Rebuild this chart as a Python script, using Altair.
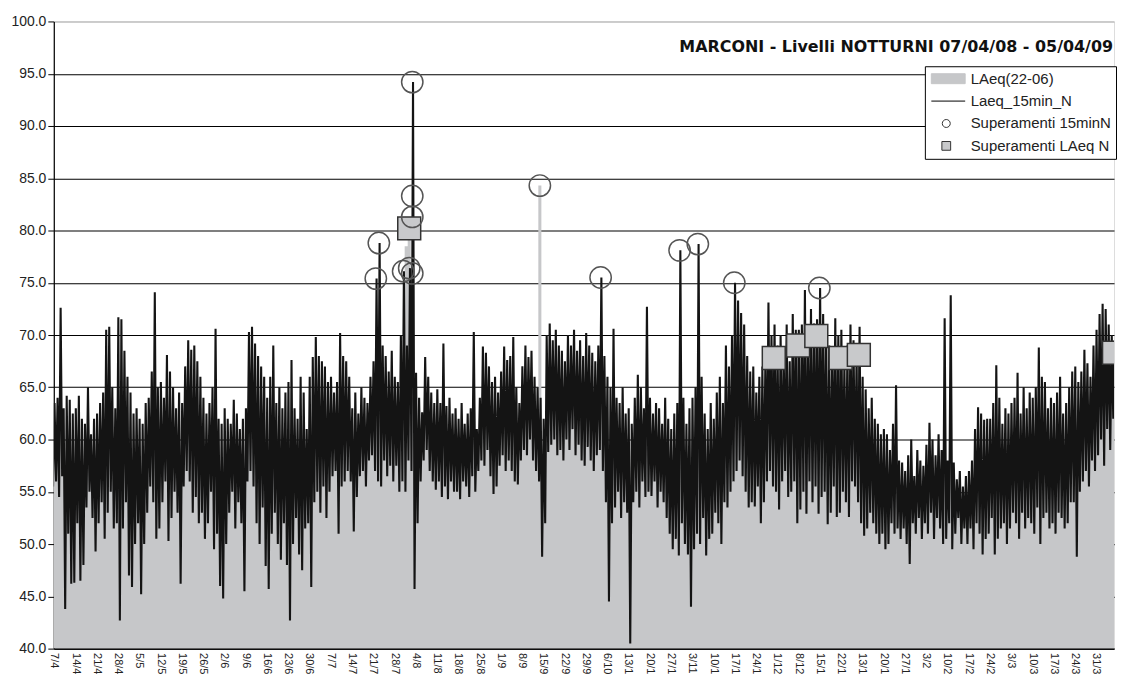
import json
import altair as alt
import pandas as pd

# ---------------- data ----------------
# tick labels as they appear on the category axis (one every 7 nights)
DATE_LABELS = ["7/4", "14/4", "21/4", "28/4", "5/5", "12/5", "19/5", "26/5", "2/6", "9/6",
               "16/6", "23/6", "30/6", "7/7", "14/7", "21/7", "28/7", "4/8", "11/8", "18/8",
               "25/8", "1/9", "8/9", "15/9", "22/9", "29/9", "6/10", "13/1", "20/1", "27/1",
               "3/11", "10/1", "17/1", "24/1", "1/12", "8/12", "15/1", "22/1", "13/1", "20/1",
               "27/1", "3/2", "10/2", "17/2", "24/2", "3/3", "10/3", "17/3", "24/3", "31/3"]

# nightly maximum of the 15-min levels (dB(A)), one value per night
HIGH_15MIN = [
    63.5, 64.0, 72.6, 63.0, 64.2, 63.8, 62.5,
    63.0, 64.2, 62.0, 61.5, 65.0, 60.5, 62.0,
    62.5, 63.5, 64.5, 70.5, 70.8, 65.0, 63.0,
    71.7, 71.5, 68.5, 66.0, 64.5, 62.5, 63.0,
    62.0, 61.5, 63.5, 64.0, 66.5, 74.1, 65.0,
    65.5, 64.0, 68.1, 66.5, 65.0, 63.0, 64.5,
    63.5, 67.0, 69.5, 68.6, 69.0, 67.5, 66.0,
    64.0, 62.5, 63.5, 65.0, 70.6, 62.0, 61.5,
    63.0, 62.0, 61.5, 63.8, 62.5, 61.0, 62.0,
    63.0, 70.3, 70.8, 69.2, 68.0, 67.0, 66.0,
    64.0, 66.0, 69.0, 63.5, 65.0, 63.0, 64.5,
    65.5, 67.6, 63.0, 62.0, 66.0, 64.5, 61.0,
    66.0, 67.9, 69.8, 68.0, 67.5, 67.0, 65.5,
    66.0, 64.5, 65.5, 70.2, 68.0, 67.5, 66.0,
    63.0, 64.5, 62.5, 65.0, 64.0, 63.5, 66.0,
    67.5, 75.4, 78.8, 69.0, 68.0, 66.5, 68.5,
    66.0, 65.5, 70.0, 76.1, 69.0, 76.4, 94.2,
    66.4, 64.0, 62.6, 67.9, 66.0, 64.5, 63.5,
    64.8, 63.5, 69.2, 63.2, 64.0, 62.5, 63.0,
    62.0, 63.5, 61.5, 62.5, 63.0, 70.3, 61.0,
    64.0, 68.9, 68.3, 67.0, 65.5, 66.0, 64.5,
    66.5, 68.9, 67.6, 68.0, 69.8, 65.0, 63.5,
    67.0, 69.0, 67.9, 68.5, 66.0, 65.0, 64.0,
    62.0, 70.0, 71.1, 69.5, 70.5, 69.0, 68.5,
    67.5, 70.0, 69.0, 70.5, 68.5, 69.5, 68.0,
    70.2, 69.0, 68.3, 67.5, 69.0, 75.5, 68.0,
    66.0, 65.0, 70.6, 64.0, 63.5, 65.0, 62.5,
    63.0, 61.5, 64.0, 66.2, 65.0, 63.0, 72.7,
    64.0, 62.5, 63.5, 63.0, 61.5, 64.0, 62.0,
    61.0, 62.5, 63.5, 78.1, 64.0, 61.5, 63.0,
    64.0, 65.0, 78.7, 66.0, 62.5, 61.0, 63.5,
    62.0, 64.5, 66.0, 63.5, 69.0, 67.0, 70.0,
    75.0, 73.3, 72.1, 71.0, 68.0, 66.5, 67.0,
    64.5, 66.0, 67.0, 68.0, 73.1, 70.0, 71.0,
    69.0, 70.0, 68.5, 71.0, 67.5, 72.0, 70.5,
    70.5, 71.0, 74.3, 70.0, 72.5, 71.1, 71.5,
    74.5, 72.0, 70.5, 69.0, 68.5, 71.6, 70.0,
    70.5, 67.5, 69.0, 71.0, 69.5, 68.0, 70.8,
    66.0, 64.8, 63.0, 64.0, 62.0, 61.5, 60.5,
    61.0, 60.5, 59.0, 61.5, 65.2, 58.0, 57.8,
    57.0, 58.5, 60.0, 56.5, 59.0, 58.0, 57.5,
    59.5, 61.6, 60.0, 58.5, 60.5, 59.0, 71.6,
    58.0, 73.8, 57.8, 56.2, 57.0, 55.5, 56.5,
    57.0, 58.0, 61.0, 63.1, 62.5, 61.9, 62.0,
    62.0, 63.5, 67.1, 64.0, 61.5, 63.0, 62.5,
    63.5, 64.0, 66.4, 62.5, 65.0, 63.0, 64.5,
    64.0, 65.0, 68.8, 66.0, 65.5, 63.0, 64.0,
    63.5, 64.5, 66.0, 62.5, 63.5, 65.0, 66.5,
    67.0, 65.5, 66.5, 68.6, 67.3, 66.0, 69.0,
    70.5, 72.0, 73.0, 72.5, 71.0, 70.0, 69.5,
]

# nightly minimum of the 15-min levels (dB(A))
LOW_15MIN = [
    55.5, 56.0, 54.5, 56.5, 43.8, 51.0, 46.2,
    46.3, 52.0, 46.5, 48.0, 53.5, 55.0, 52.5,
    49.3, 52.0, 54.0, 50.5, 53.0, 55.0, 51.5,
    52.0, 42.7, 51.5, 54.0, 47.0, 45.9, 50.0,
    52.0, 45.2, 50.0, 53.0, 55.5, 54.0, 50.5,
    51.5, 54.0, 56.0, 50.3, 52.5, 55.0, 53.0,
    46.2, 55.5, 57.0, 56.0, 53.0, 54.5, 52.0,
    53.0, 50.5, 52.0, 55.0, 49.5, 51.0, 46.0,
    44.8, 50.0, 53.0, 55.0, 51.5, 54.0, 52.0,
    45.5, 56.0, 57.0, 55.5, 52.0, 50.0, 53.5,
    47.9, 45.7, 51.0, 53.0, 50.0, 48.5, 52.0,
    48.0, 42.7, 50.0, 52.5, 49.0, 47.5, 51.5,
    52.0, 45.9, 54.0, 55.0, 53.0, 55.5, 52.5,
    55.0, 56.5, 57.0, 51.0, 55.5, 56.0, 57.0,
    56.0, 51.2, 54.5, 56.5, 57.0, 55.5, 58.0,
    58.5, 57.0, 56.0, 55.5, 58.0, 56.5, 57.5,
    56.0, 57.5, 55.0, 56.0, 55.0, 58.0, 57.0,
    45.7, 52.0, 56.0, 58.0, 59.0, 57.0, 56.0,
    55.2, 56.0, 54.5, 55.5, 54.3, 56.0, 55.0,
    55.0, 54.3, 56.0, 55.5, 54.5, 56.5, 55.0,
    57.0, 58.0, 57.5, 59.0, 56.5, 54.8, 55.5,
    57.5, 58.5, 57.0, 58.0, 57.0, 56.0, 55.7,
    58.0, 59.0, 58.5, 60.0, 58.0, 57.0, 56.0,
    48.8, 52.0, 58.8, 59.5, 60.0, 58.5, 59.0,
    58.0, 60.0, 59.0, 61.0, 58.5, 59.5, 58.0,
    57.5, 59.3, 58.0, 57.0, 58.5, 59.0, 57.0,
    54.0, 44.5, 52.0, 53.5, 55.0, 52.5, 54.0,
    53.0, 40.5, 54.0, 55.0, 53.5, 56.0, 54.5,
    55.0, 54.6, 56.0, 53.5, 55.0, 54.0, 52.5,
    51.0, 49.5, 50.5, 48.9, 52.0, 50.0, 49.0,
    44.0, 49.5, 51.0, 50.0, 52.5, 48.9, 50.5,
    51.0, 53.0, 52.0, 50.0, 54.0, 53.5, 55.0,
    56.0, 57.0, 58.0, 56.5, 55.0, 53.5, 54.0,
    53.6, 55.5, 52.0, 54.0, 56.0, 57.0, 55.5,
    55.0, 53.3, 56.0, 57.0, 54.5, 55.0, 56.0,
    52.0, 53.3, 55.0, 52.9, 56.0, 54.0, 55.5,
    52.9, 54.5, 55.0, 51.9, 53.0, 55.5, 52.6,
    53.0, 55.0, 54.0, 52.6, 56.0, 55.5, 54.0,
    52.0, 50.8, 51.5, 53.0, 52.0, 51.0, 50.0,
    51.0, 49.5, 50.0, 52.0, 51.0, 51.5, 50.5,
    51.5, 50.0, 48.1, 52.0, 51.0, 52.5, 50.5,
    52.0, 51.0, 53.0, 50.5, 52.5, 51.5, 50.0,
    50.5, 52.0, 49.5, 51.0, 52.5, 50.0, 51.5,
    50.0, 51.5, 49.5, 52.0, 51.0, 49.0, 50.5,
    51.0, 52.5, 49.0, 50.5, 51.5, 52.0, 50.0,
    51.5, 53.0, 52.0, 50.5, 53.0, 51.5, 52.5,
    52.0, 51.0, 53.5, 50.0, 52.5, 53.0, 51.5,
    52.0, 51.0, 53.0, 52.5, 51.5, 52.0, 54.0,
    54.0, 48.8, 55.0, 56.0, 57.0, 55.5, 58.0,
    57.0, 58.5, 60.0, 57.5, 61.0, 59.0, 62.0,
]

# nightly LAeq(22-06) (dB(A))
LAEQ_NIGHT = [
    59.5, 60.0, 61.0, 59.5, 58.0, 58.5, 57.5,
    57.0, 58.5, 57.5, 56.5, 59.0, 58.0, 57.5,
    57.0, 58.5, 59.5, 60.5, 61.0, 60.0, 58.0,
    62.0, 60.5, 60.0, 59.5, 57.5, 56.5, 57.5,
    57.5, 56.0, 57.5, 58.5, 60.0, 61.0, 58.5,
    59.0, 59.5, 61.0, 59.0, 58.5, 59.0, 58.5,
    57.0, 60.5, 62.5, 62.0, 61.5, 60.5, 59.0,
    58.5, 57.0, 58.0, 59.5, 60.0, 57.5, 56.0,
    55.5, 56.5, 57.5, 58.5, 57.5, 57.0, 57.0,
    56.5, 63.0, 63.5, 62.0, 60.5, 59.0, 59.5,
    56.0, 57.5, 60.0, 58.0, 57.5, 56.0, 57.5,
    57.0, 56.0, 56.5, 57.0, 58.0, 56.0, 56.0,
    59.0, 58.5, 61.5, 61.0, 60.0, 60.5, 59.0,
    60.5, 60.0, 61.0, 61.5, 61.5, 61.0, 61.0,
    59.5, 58.5, 58.5, 60.5, 60.0, 59.5, 61.5,
    62.5, 63.5, 64.5, 63.0, 62.5, 61.0, 62.5,
    61.0, 61.5, 62.0, 64.0, 78.5, 80.2, 64.0,
    57.0, 58.0, 59.0, 62.0, 62.5, 61.0, 60.0,
    60.0, 59.5, 61.0, 59.0, 59.0, 58.5, 58.5,
    58.0, 58.5, 58.0, 58.5, 58.5, 60.0, 58.0,
    60.0, 63.0, 62.5, 62.5, 61.0, 60.0, 60.0,
    61.5, 63.0, 62.0, 62.5, 63.0, 60.5, 59.5,
    62.5, 63.5, 63.0, 63.5, 62.0, 61.0, 84.3,
    56.0, 60.5, 64.0, 64.0, 65.0, 63.5, 63.5,
    62.5, 64.5, 63.5, 65.0, 63.0, 64.0, 62.5,
    63.5, 64.0, 63.0, 62.0, 63.5, 64.5, 62.0,
    60.0, 56.0, 61.0, 58.5, 59.0, 58.5, 58.0,
    58.0, 55.0, 59.0, 59.5, 59.0, 59.5, 61.0,
    59.5, 58.5, 60.0, 58.0, 58.0, 59.0, 57.5,
    56.0, 55.5, 57.0, 60.0, 57.5, 55.5, 56.0,
    55.0, 57.0, 60.5, 57.5, 57.0, 55.0, 56.5,
    56.5, 58.5, 59.0, 57.0, 61.5, 60.0, 62.5,
    65.0, 65.5, 65.0, 64.0, 61.5, 60.0, 60.5,
    59.0, 60.5, 60.0, 61.5, 64.5, 64.0, 67.8,
    63.5, 62.5, 62.0, 64.5, 61.5, 64.0, 64.0,
    69.0, 64.5, 66.0, 62.5, 65.0, 64.0, 69.9,
    65.5, 64.5, 63.5, 61.0, 61.5, 64.0, 62.5,
    67.8, 62.0, 62.5, 63.5, 63.0, 62.5, 68.1,
    60.0, 58.5, 57.5, 59.0, 57.5, 56.5, 55.5,
    56.0, 55.0, 54.5, 56.5, 57.0, 54.5, 54.0,
    54.0, 54.5, 54.0, 54.0, 55.0, 55.5, 54.0,
    56.0, 56.5, 56.5, 54.5, 56.5, 55.0, 58.0,
    54.5, 57.5, 53.5, 53.5, 54.5, 53.0, 54.0,
    53.5, 55.0, 55.5, 58.0, 57.0, 55.5, 56.5,
    56.5, 58.0, 59.0, 57.5, 56.5, 57.5, 56.5,
    57.5, 58.5, 59.5, 56.5, 59.0, 57.5, 58.5,
    58.0, 58.0, 61.0, 58.5, 59.0, 58.0, 57.5,
    58.0, 58.0, 59.5, 57.5, 57.5, 58.5, 60.0,
    61.0, 58.0, 61.0, 62.5, 62.0, 61.0, 63.5,
    65.0, 66.0, 66.5, 65.5, 66.0, 65.0, 68.3,
]

# exceedances of the 15-min limit (night index, level)
EXC15_NIGHT = [106, 107, 115, 117, 118, 118, 118, 118, 160, 180, 206, 212, 224, 252]
EXC15_LEVEL = [75.4, 78.8, 76.1, 76.4, 75.9, 81.3, 83.3, 94.2, 84.3, 75.5, 78.1, 78.7, 75.0, 74.5]

# exceedances of the nightly LAeq limit (night index, level)
EXCLAEQ_NIGHT = [117, 237, 245, 251, 259, 265, 349]
EXCLAEQ_LEVEL = [80.2, 67.8, 69.0, 69.9, 67.8, 68.1, 68.3]

SERIES = ["LAeq(22-06)", "Laeq_15min_N", "Superamenti 15minN", "Superamenti LAeq N"]
TITLE = "MARCONI - Livelli NOTTURNI 07/04/08 - 05/04/09"

# ---------------- tables ----------------
n = len(HIGH_15MIN)
area_df = pd.DataFrame({"night": list(range(n)), "laeq": LAEQ_NIGHT, "low": LOW_15MIN})
rows = []
for i in range(n):
    rows.append({"t": i - 0.25, "v": LOW_15MIN[i]})
    rows.append({"t": i + 0.25, "v": HIGH_15MIN[i]})
line_df = pd.DataFrame(rows)
circ_df = pd.DataFrame({"night": EXC15_NIGHT, "level": EXC15_LEVEL})
sq_df = pd.DataFrame({"night": EXCLAEQ_NIGHT, "level": EXCLAEQ_LEVEL})
legend_df = pd.DataFrame({"serie": SERIES, "night": [10] * 4, "level": [30.0] * 4})
title_df = pd.DataFrame({"t": [TITLE]})

FONT = "Liberation Sans"
W, H = 1065, 630
XDOM = [0, 349]

x_scale = alt.Scale(domain=XDOM, nice=False, zero=False)
y_scale = alt.Scale(domain=[40, 100], nice=False, zero=False)

label_expr = json.dumps(DATE_LABELS) + "[round(datum.value / 7)]"
x_axis = alt.Axis(values=[7 * k for k in range(len(DATE_LABELS))], labelExpr=label_expr,
                  labelAngle=90, labelAlign="left", labelBaseline="middle",
                  labelFontSize=11, labelFont=FONT, labelColor="#222", labelPadding=4,
                  ticks=False, grid=False, domainColor="#000", domainWidth=1.2,
                  title=None, labelOverlap=False, labelFlush=False, labelSeparation=0)
y_axis = alt.Axis(values=[40 + 5 * k for k in range(13)], format=".1f",
                  labelFontSize=14, labelFont=FONT, labelColor="#222", labelPadding=2,
                  tickSize=6, tickColor="#000", domainColor="#000", domainWidth=1.2,
                  gridColor={"condition": {"test": "datum.value >= 100", "value": "#aaaaaa"},
                             "value": "#000000"},
                  gridWidth=1.1, title=None, labelFlush=False, labelOverlap=False)


def X(field):
    return alt.X(field, scale=x_scale, axis=x_axis)


def Y(field):
    return alt.Y(field, scale=y_scale, axis=y_axis)


area = alt.Chart(area_df).mark_area(color="#c6c7c9", interpolate="step", clip=True).encode(
    x=X("night:Q"), y=Y("laeq:Q"), y2=alt.datum(40),
)

line = alt.Chart(line_df).mark_line(color="#141414", strokeWidth=2.1, clip=True).encode(
    x=X("t:Q"), y=Y("v:Q"),
)

squares = alt.Chart(sq_df).mark_point(shape="square", size=530, filled=True, fill="#c8c9cb",
                                      stroke="#333", strokeWidth=1.5, opacity=1,
                                      clip=True).encode(
    x=X("night:Q"), y=Y("level:Q"),
)

circles = alt.Chart(circ_df).mark_point(shape="circle", size=460, filled=False, stroke="#555",
                                        strokeWidth=1.5, opacity=1, clip=True).encode(
    x=X("night:Q"), y=Y("level:Q"),
)

# legend symbols (custom paths so that the wide swatch and the line sit like the original)
SHAPES = ["M-1.5,-1.25H7V1.25H-1.5Z",
          "M-1.5,0H7",
          "M1.25,0A1,1,0,1,1,3.25,0A1,1,0,1,1,1.25,0Z",
          "M1.15,-1.1H3.35V1.1H1.15Z"]
FILLS = ["#c6c7c9", "transparent", "#ffffff", "#c8c9cb"]
STROKES = ["#c6c7c9", "#000000", "#333333", "#333333"]
leg = alt.Legend(title=None, orient="none", legendX=875, legendY=45,
                 strokeColor="#000", fillColor="#fff", padding=5,
                 labelFont=FONT, labelFontSize=15, labelColor="#222", labelOffset=26,
                 symbolSize=64, symbolStrokeWidth=1, rowPadding=6.5, labelLimit=300)
legend_layer = alt.Chart(legend_df).mark_point(filled=True, opacity=1, clip=True).encode(
    x=X("night:Q"), y=Y("level:Q"),
    shape=alt.Shape("serie:N", scale=alt.Scale(domain=SERIES, range=SHAPES), legend=leg),
    fill=alt.Fill("serie:N", scale=alt.Scale(domain=SERIES, range=FILLS), legend=leg),
    stroke=alt.Stroke("serie:N", scale=alt.Scale(domain=SERIES, range=STROKES), legend=leg),
)

title = alt.Chart(title_df).mark_text(align="right", baseline="middle", font="DejaVu Sans",
                                      fontSize=16, fontWeight="bold", color="#111").encode(
    text="t:N", x=alt.value(W - 1), y=alt.value(26),
)

chart = alt.layer(area, line, squares, circles, legend_layer, title).properties(
    width=W, height=H,
    padding={"left": 2, "top": 5, "right": 0, "bottom": 0},
).configure_view(stroke="#999", strokeWidth=1).configure(background="white")

chart.save("out.html", embed_options={"renderer": "svg", "actions": False})
